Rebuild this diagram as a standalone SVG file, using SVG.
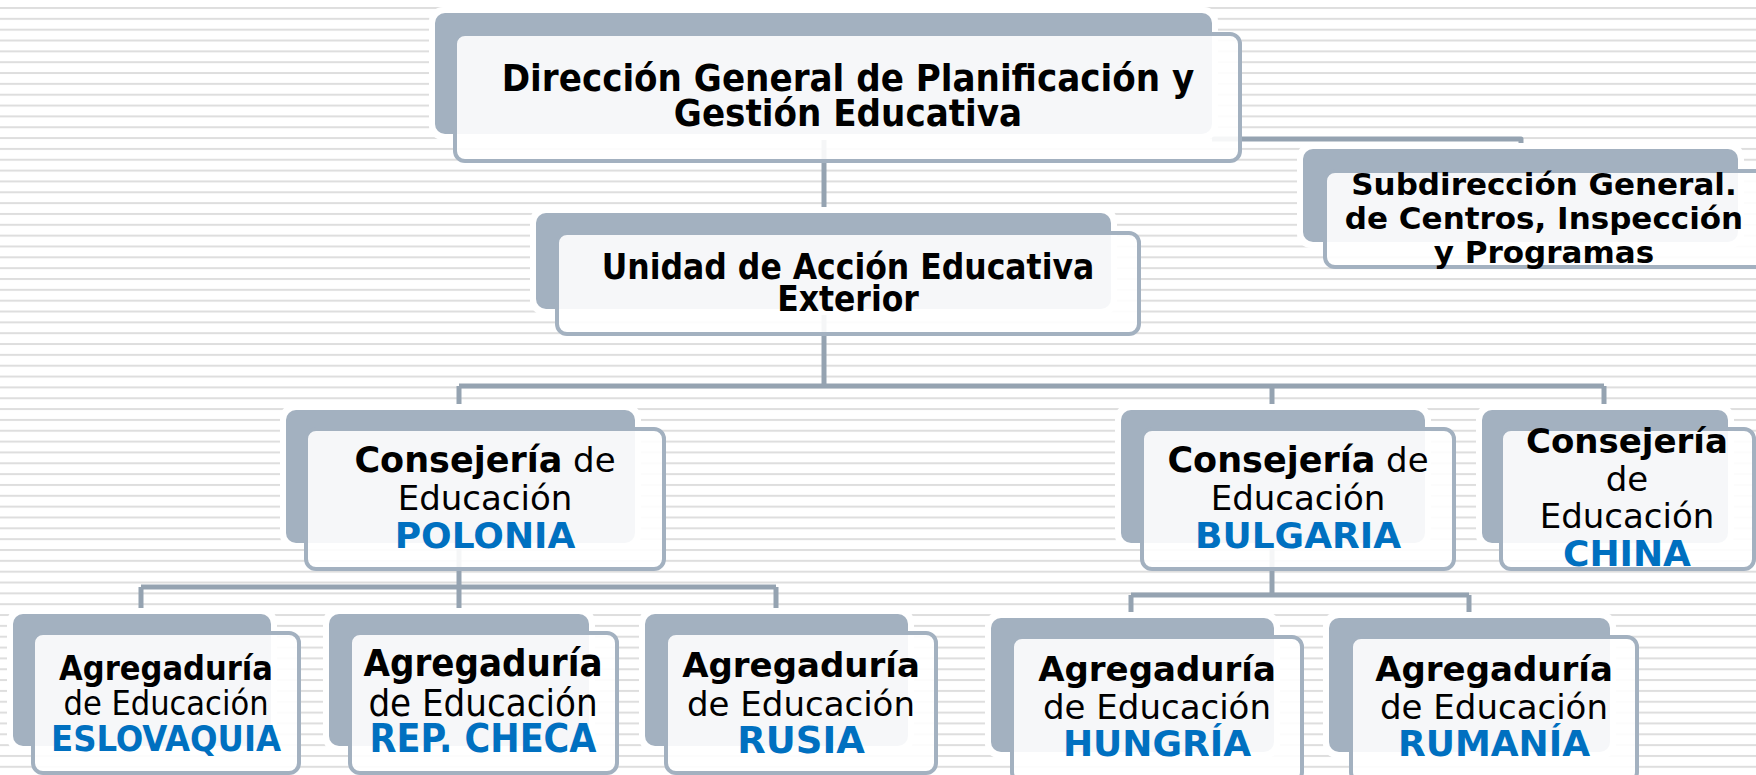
<svg xmlns="http://www.w3.org/2000/svg" width="1756" height="775" viewBox="0 0 1756 775">
<defs>
<pattern id="stripes" patternUnits="userSpaceOnUse" x="0" y="7" width="1756" height="10.84">
<rect x="0" y="0" width="1756" height="2" fill="#dedede"/>
</pattern>
</defs>
<style>
.halo{fill:#ffffff}
.back{fill:#a3b1c0}
.front{fill:#ffffff;fill-opacity:0.9;stroke:#a3b1c0;stroke-width:4}
.conn{fill:none;stroke:#95a3b1;stroke-width:5;stroke-linejoin:round}
.t{font-family:"DejaVu Sans",Verdana,sans-serif;fill:#000;text-anchor:middle}
.tc{font-family:"DejaVu Sans Condensed","DejaVu Sans",sans-serif;fill:#000;text-anchor:middle}
.b{font-weight:bold}
.blue{fill:#0070c0;font-weight:bold}
</style>
<rect width="1756" height="775" fill="#ffffff"/>
<rect width="1756" height="775" fill="url(#stripes)"/>
<g id="connectors">
<path class="conn" d="M824 134V213"/>
<path class="conn" d="M1212 139H1521V149"/>
<path class="conn" d="M824 309V386M459 386H1604M459 386V410M1272 386V410M1604 386V410"/>
<path class="conn" d="M459 543V587M141 587H776M141 587V614M459 587V614M776 587V614"/>
<path class="conn" d="M1272 543V595M1131 595H1469M1131 595V618M1469 595V618"/>
</g>
<g id="n-direccion">
<rect class="halo" x="429" y="7" width="789" height="133" rx="14"/>
<rect class="back" x="435" y="13" width="777" height="121" rx="10"/>
<rect class="front" x="455" y="34" width="785" height="127" rx="10"/>
<text class="tc b" x="848" y="91" font-size="38">Dirección General de Planificación y</text>
<text class="tc b" x="848" y="126" font-size="38">Gestión Educativa</text>
</g>
<g id="n-subdireccion">
<rect class="halo" x="1297" y="143" width="447" height="105" rx="14"/>
<rect class="back" x="1303" y="149" width="435" height="93" rx="10"/>
<rect class="front" x="1325" y="171" width="445" height="96" rx="10"/>
<text class="t b" x="1544" y="195" font-size="31">Subdirección General.</text>
<text class="t b" x="1544" y="229" font-size="31">de Centros, Inspección</text>
<text class="t b" x="1544" y="263" font-size="31">y Programas</text>
</g>
<g id="n-unidad">
<rect class="halo" x="530" y="207" width="587" height="108" rx="14"/>
<rect class="back" x="536" y="213" width="575" height="96" rx="10"/>
<rect class="front" x="557" y="233" width="582" height="101" rx="10"/>
<text class="tc b" x="848" y="279" font-size="35">Unidad de Acción Educativa</text>
<text class="tc b" x="848" y="311" font-size="35">Exterior</text>
</g>
<g id="n-polonia">
<rect class="halo" x="280" y="404" width="361" height="145" rx="14"/>
<rect class="back" x="286" y="410" width="349" height="133" rx="10"/>
<rect class="front" x="306" y="429" width="358" height="140" rx="10"/>
<text class="t" x="485" y="472" font-size="34"><tspan class="b" font-size="35">Consejería</tspan> de</text>
<text class="t" x="485" y="510" font-size="34">Educación</text>
<text class="t blue" x="485" y="548" font-size="36">POLONIA</text>
</g>
<g id="n-bulgaria">
<rect class="halo" x="1115" y="404" width="316" height="145" rx="14"/>
<rect class="back" x="1121" y="410" width="304" height="133" rx="10"/>
<rect class="front" x="1142" y="429" width="312" height="140" rx="10"/>
<text class="t" x="1298" y="472" font-size="34"><tspan class="b" font-size="35">Consejería</tspan> de</text>
<text class="t" x="1298" y="510" font-size="34">Educación</text>
<text class="t blue" x="1298" y="548" font-size="36">BULGARIA</text>
</g>
<g id="n-china">
<rect class="halo" x="1476" y="404" width="258" height="145" rx="14"/>
<rect class="back" x="1482" y="410" width="246" height="133" rx="10"/>
<rect class="front" x="1501" y="429" width="253" height="140" rx="10"/>
<text class="t b" x="1627" y="453" font-size="34">Consejería</text>
<text class="t" x="1627" y="491" font-size="34">de</text>
<text class="t" x="1627" y="528" font-size="34">Educación</text>
<text class="t blue" x="1627" y="566" font-size="36">CHINA</text>
</g>
<g id="n-eslovaquia">
<rect class="halo" x="7" y="608" width="270" height="144" rx="14"/>
<rect class="back" x="13" y="614" width="258" height="132" rx="10"/>
<rect class="front" x="33" y="633" width="266" height="140" rx="10"/>
<text class="tc b" x="166" y="680" font-size="34">Agregaduría</text>
<text class="tc" x="166" y="715" font-size="34">de Educación</text>
<text class="tc blue" x="166" y="751" font-size="36">ESLOVAQUIA</text>
</g>
<g id="n-repcheca">
<rect class="halo" x="323" y="608" width="272" height="144" rx="14"/>
<rect class="back" x="329" y="614" width="260" height="132" rx="10"/>
<rect class="front" x="350" y="633" width="267" height="140" rx="10"/>
<text class="tc b" x="483" y="676" font-size="38">Agregaduría</text>
<text class="tc" x="483" y="716" font-size="38">de Educación</text>
<text class="tc blue" x="483" y="752" font-size="39">REP. CHECA</text>
</g>
<g id="n-rusia">
<rect class="halo" x="639" y="608" width="275" height="144" rx="14"/>
<rect class="back" x="645" y="614" width="263" height="132" rx="10"/>
<rect class="front" x="666" y="633" width="270" height="140" rx="10"/>
<text class="t b" x="801" y="677" font-size="34">Agregaduría</text>
<text class="t" x="801" y="716" font-size="34">de Educación</text>
<text class="t blue" x="801" y="753" font-size="37">RUSIA</text>
</g>
<g id="n-hungria">
<rect class="halo" x="985" y="612" width="295" height="146" rx="14"/>
<rect class="back" x="991" y="618" width="283" height="134" rx="10"/>
<rect class="front" x="1012" y="637" width="290" height="145" rx="10"/>
<text class="t b" x="1157" y="681" font-size="34">Agregaduría</text>
<text class="t" x="1157" y="719" font-size="34">de Educación</text>
<text class="t blue" x="1157" y="756" font-size="36">HUNGRÍA</text>
</g>
<g id="n-rumania">
<rect class="halo" x="1323" y="612" width="293" height="146" rx="14"/>
<rect class="back" x="1329" y="618" width="281" height="134" rx="10"/>
<rect class="front" x="1351" y="637" width="286" height="145" rx="10"/>
<text class="t b" x="1494" y="681" font-size="34">Agregaduría</text>
<text class="t" x="1494" y="719" font-size="34">de Educación</text>
<text class="t blue" x="1494" y="756" font-size="36">RUMANÍA</text>
</g>
</svg>
